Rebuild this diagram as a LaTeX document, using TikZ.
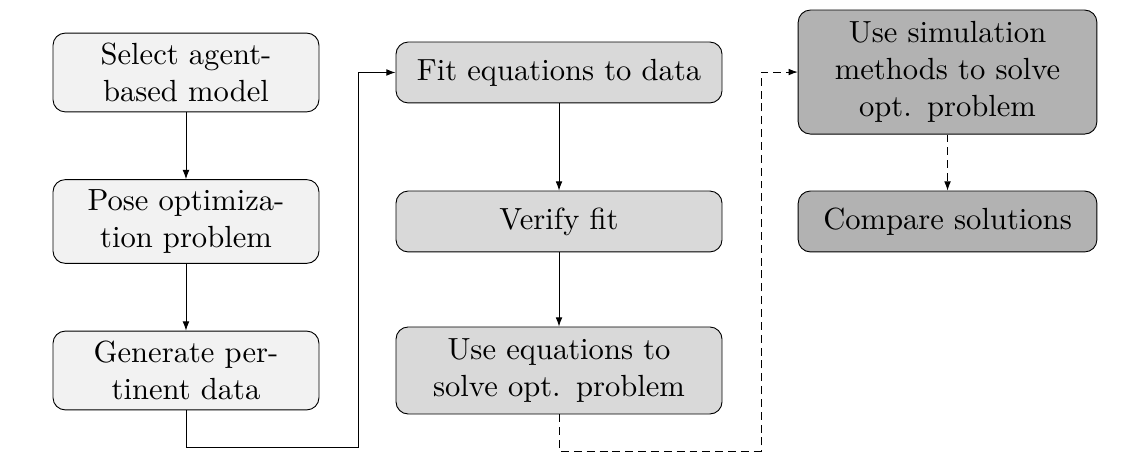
\documentclass[tikz,border=0pt]{standalone}
\usepackage{amsmath}
\usepackage{tikz}
\usetikzlibrary{calc,arrows.meta}

\tikzset{
  stepbox/.style={draw,line width=0.3pt,rounded corners=4pt,align=center,inner sep=3.3pt},
  firstcol/.style={stepbox,fill=gray!10,text width=2.8cm,minimum width=3.056cm},
  secondcol/.style={stepbox,fill=gray!30,text width=3.5cm,minimum width=3.746cm},
  thirdcol/.style={stepbox,fill=gray!60,text width=3.2cm,minimum width=3.413cm},
  arr/.style={-{Latex[length=3pt,width=2.2pt]},line width=0.3pt},
  dasharr/.style={arr,dash pattern=on 2.6pt off 1.6pt}
}

\begin{document}
\begin{tikzpicture}
          \useasboundingbox (0,0) rectangle (13.11,-5.458);
          % first column
          \node[firstcol] (sel) at (2.137,-0.833) {Select agent-\\based model};
          \node[firstcol] (pose) at (2.137,-2.545) {Pose optimiza-\\tion problem};
          \node[firstcol] (gen) at (2.137,-4.257) {Generate per-\\tinent data};
          % second column
          \node[secondcol,minimum height=0.70cm] (fit) at (6.423,-0.833) {Fit equations to data};
          \node[secondcol,minimum height=0.70cm] (ver) at (6.423,-2.545) {Verify fit};
          \node[secondcol,minimum height=1.0cm] (useq) at (6.423,-4.257) {Use equations to\\solve opt. problem};
          % third column
          \node[thirdcol,minimum height=1.425cm] (sim) at (10.887,-0.828) {Use simulation\\methods to solve\\opt. problem};
          \node[thirdcol,minimum height=0.70cm] (cmp) at (10.887,-2.545) {Compare solutions};
          \coordinate (turn1) at (4.113,-5.136);
          \coordinate (turn2) at (8.744,-5.182);
          \draw[arr] (sel) -- (pose);
          \draw[arr] (pose) -- (gen);
          \draw[arr] (gen.south) |- (turn1) |- (fit.west);
          \draw[arr] (fit) -- (ver);
          \draw[arr] (ver) -- (useq);
          \draw[dasharr] (useq.south) |- (turn2) |- (sim.west);
          \draw[dasharr] (sim) -- (cmp);
        \end{tikzpicture}
\end{document}
